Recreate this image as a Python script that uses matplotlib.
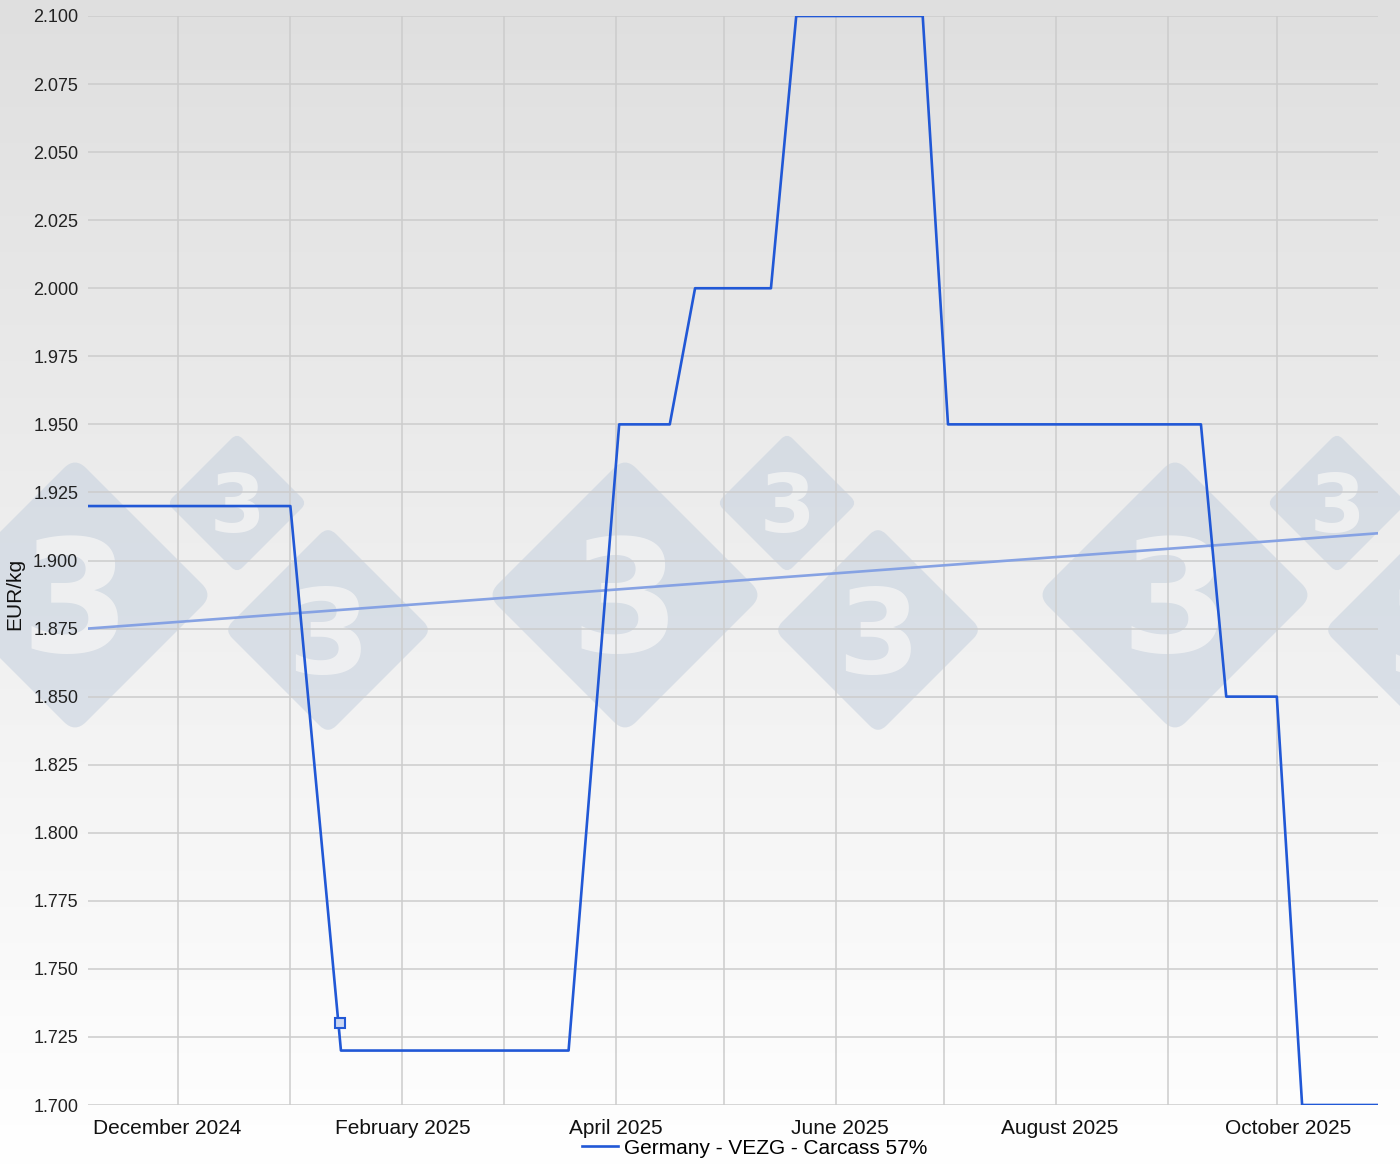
import matplotlib
matplotlib.use("Agg")
import matplotlib.pyplot as plt
import numpy as np
import pandas as pd
from matplotlib.patches import FancyBboxPatch
from matplotlib.transforms import Affine2D

# ---------------- data ----------------
dates = ["2024-11-06", "2024-11-13", "2024-11-20", "2024-11-27", "2024-12-04",
         "2024-12-11", "2024-12-18", "2024-12-25", "2025-01-01",
         "2025-01-15", "2025-01-22", "2025-01-29", "2025-02-05", "2025-02-12",
         "2025-02-19", "2025-02-26", "2025-03-05", "2025-03-12", "2025-03-19",
         "2025-04-02", "2025-04-09", "2025-04-16",
         "2025-04-23", "2025-04-30", "2025-05-07", "2025-05-14",
         "2025-05-21", "2025-05-28", "2025-06-04", "2025-06-11", "2025-06-18", "2025-06-25",
         "2025-07-02", "2025-07-09", "2025-07-16", "2025-07-23", "2025-07-30",
         "2025-08-06", "2025-08-13", "2025-08-20", "2025-08-27", "2025-09-03", "2025-09-10",
         "2025-09-17", "2025-09-24", "2025-10-01",
         "2025-10-08", "2025-10-15", "2025-10-22", "2025-10-29"]
prices = [1.92] * 9 + [1.72] * 10 + [1.95] * 3 + [2.00] * 4 + [2.10] * 6 + \
         [1.95] * 11 + [1.85] * 3 + [1.70] * 4
series_name = "Germany - VEZG - Carcass 57%"

trend_dates = ["2024-11-06", "2025-10-29"]
trend_values = [1.875, 1.910]

marker_date = "2025-01-14 18:00"
marker_value = 1.73

grid_months = ["2024-12-01", "2025-01-01", "2025-02-01", "2025-03-01", "2025-04-01",
               "2025-05-01", "2025-06-01", "2025-07-01", "2025-08-01", "2025-09-01",
               "2025-10-01"]
label_dates = ["2024-11-28", "2025-02-01", "2025-04-01", "2025-06-02", "2025-08-02", "2025-10-04"]
label_texts = ["December 2024", "February 2025", "April 2025", "June 2025",
               "August 2025", "October 2025"]
y_ticks = [1.700 + 0.025 * i for i in range(17)]

# ---------------- figure ----------------
plt.rcParams['font.family'] = ['Liberation Sans', 'DejaVu Sans']
W, H = 1400, 1164
fig = plt.figure(figsize=(W / 100, H / 100), dpi=100)

# background gradient + watermark (decoration, pixel coordinates)
bg = fig.add_axes([0, 0, 1, 1], zorder=-1)
grad = np.linspace(0, 1, 256).reshape(-1, 1)
top = np.array([0.875, 0.875, 0.875])
bot = np.array([1.0, 1.0, 1.0])
img = top[None, None, :] * (1 - grad[:, :, None]) + bot[None, None, :] * grad[:, :, None]
bg.imshow(img, extent=[0, W, H, 0], aspect='auto', interpolation='bicubic')
bg.set_xlim(0, W)
bg.set_ylim(H, 0)
bg.axis('off')

marks = []
for k in range(3):
    off = 550 * k
    marks += [(75 + off, 595, 138), (237 + off, 503, 70), (328 + off, 630, 104)]
for cx, cy, hd in marks:
    side = hd * np.sqrt(2)
    r = side * 0.08
    p = FancyBboxPatch((cx - side / 2 + r, cy - side / 2 + r), side - 2 * r, side - 2 * r,
                       boxstyle=f"round,pad={r}", facecolor='#c5d0de', edgecolor='none',
                       alpha=0.55)
    p.set_transform(Affine2D().rotate_deg_around(cx, cy, 45) + bg.transData)
    bg.add_patch(p)
    t = bg.text(cx, cy + hd * 0.1, "3", fontsize=hd * 0.82, fontweight='bold',
                family='DejaVu Sans', color='#f4f4f4', alpha=0.8,
                ha='center', va='center')
    t.set_in_layout(False)

# main axes
ax = fig.add_axes([88 / W, 1 - 1105 / H, (1378 - 88) / W, (1105 - 16) / H])
ax.set_facecolor('none')
for s in ax.spines.values():
    s.set_visible(False)

x = pd.to_datetime(dates)
ax.plot(x, prices, color='#2158d6', lw=1.9, zorder=4, label=series_name)
ax.plot(pd.to_datetime(trend_dates), trend_values, color='#86a2e3', lw=1.9, zorder=3)
ax.plot(pd.to_datetime([marker_date]), [marker_value], marker='s', ms=7,
        mfc='#c9d5f2', mec='#2158d6', mew=1.5, ls='none', zorder=5)

ax.set_xlim(pd.Timestamp(dates[0]), pd.Timestamp(dates[-1]))
ax.set_ylim(1.7, 2.1)
ax.set_yticks(y_ticks)
ax.set_yticklabels([f"{v:.3f}" for v in y_ticks])
ax.xaxis.remove_overlapping_locs = False
ax.set_xticks(pd.to_datetime(grid_months))
ax.set_xticklabels([])
ax.set_xticks(pd.to_datetime(label_dates), minor=True)
ax.set_xticklabels(label_texts, minor=True)
ax.grid(True, which='major', color='#cccccc', lw=1.1, zorder=1)
ax.set_axisbelow(True)
ax.tick_params(axis='both', which='both', length=0)
ax.tick_params(axis='y', labelsize=13, pad=7, labelcolor='#222222')
ax.tick_params(axis='x', which='minor', labelsize=15, pad=10, labelcolor='#111111')

fig.text(15 / W, 1 - 594 / H, "EUR/kg", rotation=90, ha='center', va='center',
         fontsize=15, color='#111111')

fig.legend(handles=[ax.lines[0]], loc='center', bbox_to_anchor=(755 / W, 1 - 1148 / H),
           frameon=False, fontsize=15, handlelength=1.7, handletextpad=0.3,
           borderpad=0, borderaxespad=0)

fig.savefig("out.png", dpi=100)
